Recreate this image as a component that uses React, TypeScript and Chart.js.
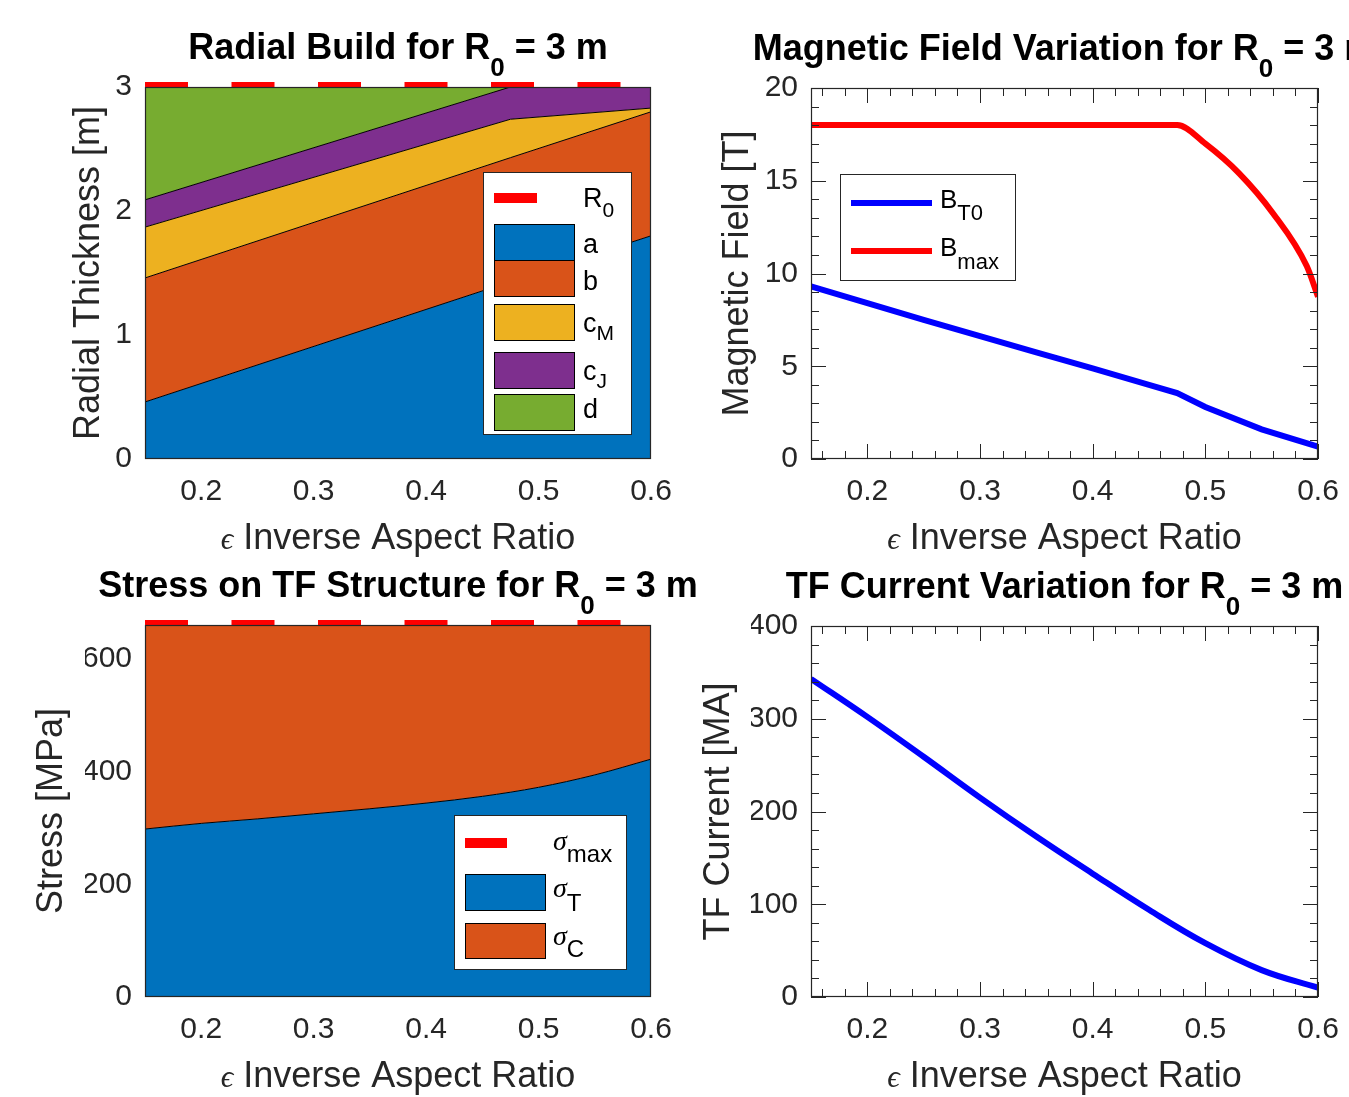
import { useEffect, useRef } from 'react';
import { Chart, registerables } from 'chart.js';
Chart.register(...registerables);

const SANS = '"Liberation Sans", Arial, Helvetica, sans-serif';
const SERIF = '"Liberation Serif", "DejaVu Serif", serif';
const AXIS_COLOR = '#262626';

// ---------- Radial build (layer thicknesses, m) ----------
const buildEps = [0.15, 0.475, 0.6];
const thicknessA = [0.46, 1.43, 1.8];
const thicknessB = [1.0, 1.0, 1.0];
const thicknessCM = [0.41, 0.31, 0.03];
const thicknessCJ = [0.22, 0.26, 0.17];
const thicknessD = [0.91, 0.0, 0.0];
const r0Eps = [0.15, 0.6];
const r0Value = [3, 3];

// ---------- Magnetic field (T) ----------
const bT0Eps = [0.15, 0.2, 0.25, 0.3, 0.35, 0.4, 0.45, 0.475, 0.5, 0.55, 0.6];
const bT0 = [9.3, 8.4, 7.5, 6.62, 5.75, 4.88, 4.0, 3.55, 2.8, 1.6, 0.66];
const bMaxEps = [0.15, 0.475, 0.5, 0.53, 0.56, 0.59, 0.6];
const bMax = [18, 18, 17.0, 15.4, 13.25, 10.4, 8.75];

// ---------- Stress (MPa) ----------
const stressEps = [0.15, 0.2, 0.25, 0.3, 0.35, 0.4, 0.45, 0.5, 0.55, 0.6];
const sigmaT = [298, 308, 316, 325, 334, 344, 356, 372, 394, 422];
const sigmaC = [362, 352, 344, 335, 326, 316, 304, 288, 266, 238];
const sigmaMaxEps = [0.15, 0.6];
const sigmaMax = [660, 660];

// ---------- TF current (MA) ----------
const currentEps = [0.15, 0.2, 0.25, 0.3, 0.35, 0.4, 0.45, 0.5, 0.55, 0.6];
const tfCurrent = [343, 302, 259, 215, 173, 133, 94, 58, 29, 10];

// ---------- ticks ----------
const epsTicks = [0.2, 0.3, 0.4, 0.5, 0.6];
const epsMinorTicks = [0.16, 0.18, 0.2, 0.22, 0.24, 0.26, 0.28, 0.3, 0.32, 0.34, 0.36, 0.38, 0.4, 0.42, 0.44, 0.46, 0.48, 0.5, 0.52, 0.54, 0.56, 0.58, 0.6];
const buildTicks = [0, 1, 2, 3];
const stressTicks = [0, 200, 400, 600];
const fieldTicks = [0, 5, 10, 15, 20];
const fieldMinorTicks = [1, 2, 3, 4, 5, 6, 7, 8, 9, 10, 11, 12, 13, 14, 15, 16, 17, 18, 19];
const currentTicks = [0, 100, 200, 300, 400];
const currentMinorTicks = [20, 40, 60, 80, 100, 120, 140, 160, 180, 200, 220, 240, 260, 280, 300, 320, 340, 360, 380];

const C = {
  a: '#0072BD',
  b: '#D95319',
  cM: '#EDB120',
  cJ: '#7E2F8E',
  d: '#77AC30',
  red: '#FF0000',
  blue: '#0000FF',
};

const pts = (xs: number[], ys: number[]) => xs.map((x, i) => ({ x, y: ys[i] }));

type Run = { t: string; font: string; dy?: number };

function drawRuns(ctx: CanvasRenderingContext2D, runs: Run[], x: number, y: number, align: 'left' | 'center') {
  let w = 0;
  for (const r of runs) {
    ctx.font = r.font;
    w += ctx.measureText(r.t).width;
  }
  let cx = align === 'center' ? x - w / 2 : x;
  ctx.textAlign = 'left';
  ctx.textBaseline = 'alphabetic';
  for (const r of runs) {
    ctx.font = r.font;
    ctx.fillText(r.t, cx, y + (r.dy || 0));
    cx += ctx.measureText(r.t).width;
  }
}

const TITLE_FONT = `bold 36px ${SANS}`;
const TITLE_SUB = `bold 26px ${SANS}`;
const LABEL_FONT = `36px ${SANS}`;

function legendBox(ctx: CanvasRenderingContext2D, x: number, y: number, w: number, h: number) {
  ctx.save();
  ctx.fillStyle = '#FFFFFF';
  ctx.fillRect(x, y, w, h);
  ctx.strokeStyle = AXIS_COLOR;
  ctx.lineWidth = 1;
  ctx.strokeRect(x + 0.5, y + 0.5, w - 1, h - 1);
  ctx.restore();
}
function legendLine(ctx: CanvasRenderingContext2D, x1: number, x2: number, y: number, w: number, color: string) {
  ctx.save();
  ctx.strokeStyle = color;
  ctx.lineWidth = w;
  ctx.beginPath();
  ctx.moveTo(x1, y);
  ctx.lineTo(x2, y);
  ctx.stroke();
  ctx.restore();
}
function legendSwatch(ctx: CanvasRenderingContext2D, x: number, y: number, w: number, h: number, color: string) {
  ctx.save();
  ctx.fillStyle = color;
  ctx.fillRect(x, y, w, h);
  ctx.strokeStyle = '#000000';
  ctx.lineWidth = 1;
  ctx.strokeRect(x + 0.5, y + 0.5, w - 1, h - 1);
  ctx.restore();
}

const LEG1 = `27px ${SANS}`;
const LEG1S = `21px ${SANS}`;

function legendBuild(ctx: CanvasRenderingContext2D) {
  legendBox(ctx, 483, 172, 149, 263);
  legendLine(ctx, 494, 537, 198, 10, C.red);
  legendSwatch(ctx, 494, 224, 81, 37, C.a);
  legendSwatch(ctx, 494, 260, 81, 37, C.b);
  legendSwatch(ctx, 494, 304, 81, 37, C.cM);
  legendSwatch(ctx, 494, 352, 81, 37, C.cJ);
  legendSwatch(ctx, 494, 394, 81, 37, C.d);
  ctx.fillStyle = '#000';
  drawRuns(ctx, [{ t: 'R', font: LEG1 }, { t: '0', font: LEG1S, dy: 10 }], 583, 207, 'left');
  drawRuns(ctx, [{ t: 'a', font: LEG1 }], 583, 253, 'left');
  drawRuns(ctx, [{ t: 'b', font: LEG1 }], 583, 290, 'left');
  drawRuns(ctx, [{ t: 'c', font: LEG1 }, { t: 'M', font: LEG1S, dy: 8 }], 583, 332, 'left');
  drawRuns(ctx, [{ t: 'c', font: LEG1 }, { t: 'J', font: LEG1S, dy: 8 }], 583, 380, 'left');
  drawRuns(ctx, [{ t: 'd', font: LEG1 }], 583, 418, 'left');
}

const LEG2 = `26px ${SANS}`;
const LEG2S = `22px ${SANS}`;
function legendField(ctx: CanvasRenderingContext2D) {
  legendBox(ctx, 166, 174, 176, 107);
  legendLine(ctx, 177, 258, 203, 6, C.blue);
  legendLine(ctx, 177, 258, 251, 6, C.red);
  ctx.fillStyle = '#000';
  drawRuns(ctx, [{ t: 'B', font: LEG2 }, { t: 'T0', font: LEG2S, dy: 12 }], 266, 208, 'left');
  drawRuns(ctx, [{ t: 'B', font: LEG2 }, { t: 'max', font: LEG2S, dy: 13 }], 266, 256, 'left');
}

const SIG = `italic 28px ${SERIF}`;
const LEG3S = `24px ${SANS}`;
function legendStress(ctx: CanvasRenderingContext2D) {
  legendBox(ctx, 454, 267, 173, 155);
  legendLine(ctx, 465, 507, 295, 10, C.red);
  legendSwatch(ctx, 465, 326, 81, 37, C.a);
  legendSwatch(ctx, 465, 375, 81, 36, C.b);
  ctx.fillStyle = '#000';
  drawRuns(ctx, [{ t: 'σ', font: SIG }, { t: 'max', font: LEG3S, dy: 12 }], 553, 302, 'left');
  drawRuns(ctx, [{ t: 'σ', font: SIG }, { t: 'T', font: LEG3S, dy: 14 }], 553, 349, 'left');
  drawRuns(ctx, [{ t: 'σ', font: SIG }, { t: 'C', font: LEG3S, dy: 12 }], 553, 397, 'left');
}

interface PanelSpec {
  left: number;
  top: number;
  width: number;
  height: number;
  area: { l: number; t: number; r: number; b: number };
  datasets: any[];
  yMax: number;
  yTicks: number[];
  yMinor: number[] | null;
  stacked: boolean;
  title: string;
  yLabel: string;
  yLabelX: number;
  legend: (ctx: CanvasRenderingContext2D) => void;
}

const near = (a: number, list: number[]) => list.some((v) => Math.abs(v - a) < 1e-9);

function makeConfig(spec: PanelSpec): any {
  const { area } = spec;
  const decor = {
    id: 'decor',
    afterDraw(chart: any) {
      const ctx: CanvasRenderingContext2D = chart.ctx;
      const ca = chart.chartArea;
      const xs = chart.scales.x;
      const ys = chart.scales.y;
      ctx.save();
      // inward ticks (box on)
      if (spec.yMinor) {
        ctx.strokeStyle = AXIS_COLOR;
        ctx.lineWidth = 1;
        ctx.beginPath();
        for (const v of epsMinorTicks) {
          const px = Math.round(xs.getPixelForValue(v)) + 0.5;
          const len = near(v, epsTicks) ? 15 : 8;
          ctx.moveTo(px, ca.bottom);
          ctx.lineTo(px, ca.bottom - len);
          ctx.moveTo(px, ca.top);
          ctx.lineTo(px, ca.top + len);
        }
        const yAll = spec.yMinor.concat(spec.yTicks);
        for (const v of yAll) {
          const py = Math.round(ys.getPixelForValue(v)) + 0.5;
          const len = near(v, spec.yTicks) ? 15 : 8;
          ctx.moveTo(ca.left, py);
          ctx.lineTo(ca.left + len, py);
          ctx.moveTo(ca.right, py);
          ctx.lineTo(ca.right - len, py);
        }
        ctx.stroke();
      }
      // box
      ctx.strokeStyle = AXIS_COLOR;
      ctx.lineWidth = 1.2;
      ctx.strokeRect(ca.left + 0.5, ca.top + 0.5, ca.right - ca.left - 1, ca.bottom - ca.top - 1);
      // legend
      spec.legend(ctx);
      // title
      ctx.fillStyle = '#000';
      drawRuns(
        ctx,
        [
          { t: spec.title + ' for R', font: TITLE_FONT },
          { t: '0', font: TITLE_SUB, dy: 17 },
          { t: ' = 3 m', font: TITLE_FONT },
        ],
        (ca.left + ca.right) / 2,
        ca.top - 28,
        'center'
      );
      // x label
      ctx.fillStyle = AXIS_COLOR;
      drawRuns(
        ctx,
        [
          { t: 'ϵ', font: `italic 31px ${SERIF}` },
          { t: ' Inverse Aspect Ratio', font: LABEL_FONT },
        ],
        (ca.left + ca.right) / 2,
        ca.bottom + 90,
        'center'
      );
      // y label
      ctx.save();
      ctx.translate(spec.yLabelX, (ca.top + ca.bottom) / 2);
      ctx.rotate(-Math.PI / 2);
      ctx.font = LABEL_FONT;
      ctx.textAlign = 'center';
      ctx.textBaseline = 'alphabetic';
      ctx.fillText(spec.yLabel, 0, 0);
      ctx.restore();
      ctx.restore();
    },
  };

  return {
    type: 'line',
    data: { datasets: spec.datasets },
    plugins: [decor],
    options: {
      responsive: false,
      animation: false,
      events: [],
      devicePixelRatio: 1,
      layout: {
        padding: {
          left: area.l - 60,
          top: area.t,
          right: spec.width - area.r,
          bottom: spec.height - area.b - 60,
        },
      },
      plugins: { legend: { display: false }, tooltip: { enabled: false }, title: { display: false } },
      elements: { point: { radius: 0 } },
      scales: {
        x: {
          type: 'linear',
          min: 0.15,
          max: 0.6,
          grid: { display: false, drawTicks: false },
          border: { display: false },
          ticks: {
            font: { family: SANS, size: 30 },
            color: AXIS_COLOR,
            padding: 15,
            maxRotation: 0,
            autoSkip: false,
            callback: (v: any) => Number(v).toFixed(1),
          },
          afterBuildTicks: (s: any) => {
            s.ticks = epsTicks.map((v) => ({ value: v }));
          },
          afterFit: (s: any) => {
            s.height = 60;
          },
        },
        y: {
          type: 'linear',
          min: 0,
          max: spec.yMax,
          stacked: spec.stacked,
          grid: { display: false, drawTicks: false },
          border: { display: false },
          ticks: {
            font: { family: SANS, size: 30 },
            color: AXIS_COLOR,
            padding: 13,
            autoSkip: false,
            callback: (v: any) => String(v),
          },
          afterBuildTicks: (s: any) => {
            s.ticks = spec.yTicks.map((v) => ({ value: v }));
          },
          afterFit: (s: any) => {
            s.width = 60;
          },
        },
      },
    },
  };
}

const areaLayer = (label: string, ys: number[], color: string, fill: any) => ({
  label,
  data: pts(buildEps, ys),
  backgroundColor: color,
  borderColor: '#000000',
  borderWidth: 1,
  fill,
  pointRadius: 0,
  stack: 'build',
});

const spec1: PanelSpec = {
  left: 0,
  top: 0,
  width: 690,
  height: 565,
  area: { l: 145, t: 87, r: 651, b: 459 },
  datasets: [
    areaLayer('a', thicknessA, C.a, 'origin'),
    areaLayer('b', thicknessB, C.b, '-1'),
    areaLayer('cM', thicknessCM, C.cM, '-1'),
    areaLayer('cJ', thicknessCJ, C.cJ, '-1'),
    areaLayer('d', thicknessD, C.d, '-1'),
    {
      label: 'R0',
      data: pts(r0Eps, r0Value),
      borderColor: C.red,
      borderWidth: 10,
      borderDash: [43, 43.5],
      fill: false,
      pointRadius: 0,
      clip: false,
      stack: 'ref',
    },
  ],
  yMax: 3,
  yTicks: buildTicks,
  yMinor: null,
  stacked: true,
  title: 'Radial Build',
  yLabel: 'Radial Thickness [m]',
  yLabelX: 99,
  legend: legendBuild,
};

const spec2: PanelSpec = {
  left: 674,
  top: 0,
  width: 700,
  height: 565,
  area: { l: 137, t: 88, r: 644, b: 459 },
  datasets: [
    {
      label: 'BT0',
      data: pts(bT0Eps, bT0),
      borderColor: C.blue,
      borderWidth: 6,
      fill: false,
      pointRadius: 0,
    },
    {
      label: 'Bmax',
      data: pts(bMaxEps, bMax),
      borderColor: C.red,
      borderWidth: 6,
      fill: false,
      pointRadius: 0,
      cubicInterpolationMode: 'monotone',
    },
  ],
  yMax: 20,
  yTicks: fieldTicks,
  yMinor: fieldMinorTicks,
  stacked: false,
  title: 'Magnetic Field Variation',
  yLabel: 'Magnetic Field [T]',
  yLabelX: 74,
  legend: legendField,
};

const spec3: PanelSpec = {
  left: 0,
  top: 548,
  width: 720,
  height: 549,
  area: { l: 145, t: 77, r: 651, b: 449 },
  datasets: [
    {
      label: 'sigmaT',
      data: pts(stressEps, sigmaT),
      backgroundColor: C.a,
      borderColor: '#000000',
      borderWidth: 1,
      fill: 'origin',
      pointRadius: 0,
      cubicInterpolationMode: 'monotone',
      stack: 'stress',
    },
    {
      label: 'sigmaC',
      data: pts(stressEps, sigmaC),
      backgroundColor: C.b,
      borderColor: '#000000',
      borderWidth: 1,
      fill: '-1',
      pointRadius: 0,
      stack: 'stress',
    },
    {
      label: 'sigmaMax',
      data: pts(sigmaMaxEps, sigmaMax),
      borderColor: C.red,
      borderWidth: 10,
      borderDash: [43, 43.5],
      fill: false,
      pointRadius: 0,
      clip: false,
      stack: 'ref',
    },
  ],
  yMax: 660,
  yTicks: stressTicks,
  yMinor: null,
  stacked: true,
  title: 'Stress on TF Structure',
  yLabel: 'Stress [MPa]',
  yLabelX: 62,
  legend: legendStress,
};

const spec4: PanelSpec = {
  left: 674,
  top: 548,
  width: 700,
  height: 549,
  area: { l: 137, t: 78, r: 644, b: 449 },
  datasets: [
    {
      label: 'ITF',
      data: pts(currentEps, tfCurrent),
      borderColor: C.blue,
      borderWidth: 6,
      fill: false,
      pointRadius: 0,
      tension: 0.4,
    },
  ],
  yMax: 400,
  yTicks: currentTicks,
  yMinor: currentMinorTicks,
  stacked: false,
  title: 'TF Current Variation',
  yLabel: 'TF Current [MA]',
  yLabelX: 55,
  legend: () => {},
};

function Panel({ spec }: { spec: PanelSpec }) {
  const ref = useRef<HTMLCanvasElement>(null);
  useEffect(() => {
    const chart = new Chart(ref.current as HTMLCanvasElement, makeConfig(spec));
    return () => chart.destroy();
  }, [spec]);
  return (
    <canvas
      ref={ref}
      width={spec.width}
      height={spec.height}
      style={{ position: 'absolute', left: spec.left, top: spec.top, width: spec.width, height: spec.height }}
    />
  );
}

export default function App() {
  return (
    <div
      style={{
        position: 'absolute',
        left: 0,
        top: 0,
        width: 1349,
        height: 1097,
        background: '#FFFFFF',
        overflow: 'hidden',
      }}
    >
      <Panel spec={spec1} />
      <Panel spec={spec2} />
      <Panel spec={spec3} />
      <Panel spec={spec4} />
    </div>
  );
}
